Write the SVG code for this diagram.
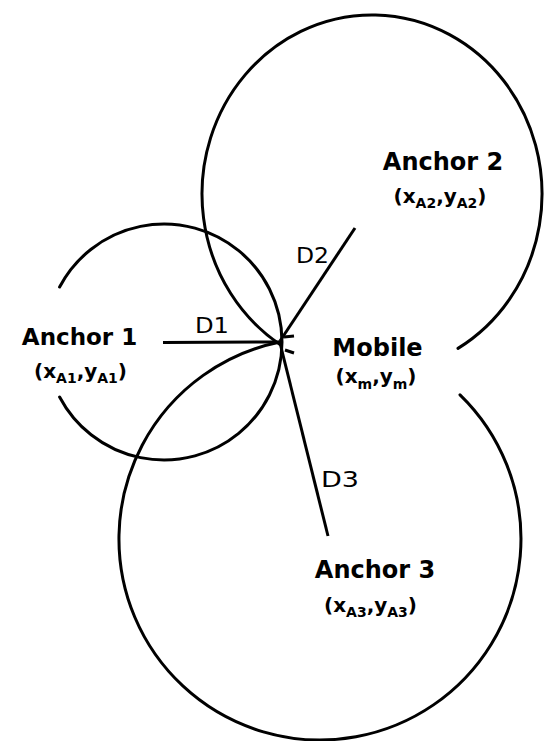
<svg xmlns="http://www.w3.org/2000/svg" width="545" height="741" viewBox="0 0 545 741">
<style>
.arc{fill:none;stroke:#000;stroke-width:3;stroke-linecap:round}
.ln{fill:none;stroke:#000;stroke-width:3;stroke-linecap:butt}
.name{font-family:"DejaVu Sans","Liberation Sans",sans-serif;font-weight:bold;font-size:24px;fill:#000;text-anchor:middle}
.coord{font-family:"DejaVu Sans","Liberation Sans",sans-serif;font-weight:bold;font-size:20px;fill:#000;text-anchor:middle}
.sub{font-size:14px}
.dl{font-family:"DejaVu Sans","Liberation Sans",sans-serif;font-size:21px;fill:#000}
</style>
<rect width="545" height="741" fill="#fff"/>
<g id="anchor1">
<path class="arc" d="M 59.6,287 A 118 118 0 1 1 59.6,397"/>
<text class="name" x="79.5" y="345" style="font-size:23px">Anchor 1</text>
<text class="coord" x="80.5" y="378">(x<tspan class="sub" dy="5">A1</tspan><tspan dy="-5">,y</tspan><tspan class="sub" dy="5">A1</tspan><tspan dy="-5">)</tspan></text>
</g>
<g id="anchor2">
<path class="arc" d="M 458,348.4 A 170 179 0 1 0 280,344.5"/>
<text class="name" x="443" y="170">Anchor 2</text>
<text class="coord" x="440" y="203">(x<tspan class="sub" dy="5">A2</tspan><tspan dy="-5">,y</tspan><tspan class="sub" dy="5">A2</tspan><tspan dy="-5">)</tspan></text>
</g>
<g id="anchor3">
<path class="arc" d="M 460,394.8 A 201 201 0 1 1 280,342"/>
<text class="name" x="375" y="578">Anchor 3</text>
<text class="coord" x="370.5" y="612">(x<tspan class="sub" dy="5">A3</tspan><tspan dy="-5">,y</tspan><tspan class="sub" dy="5">A3</tspan><tspan dy="-5">)</tspan></text>
</g>
<g id="mobile">
<line class="ln" x1="284" y1="337" x2="294" y2="336"/>
<line class="ln" x1="285" y1="350" x2="294" y2="353"/>
<text class="name" x="377.5" y="356">Mobile</text>
<text class="coord" x="376" y="383">(x<tspan class="sub" dy="6">m</tspan><tspan dy="-6">,y</tspan><tspan class="sub" dy="6">m</tspan><tspan dy="-6">)</tspan></text>
</g>
<g id="connectors">
<line class="ln" x1="163" y1="342.5" x2="281" y2="342"/>
<line class="ln" x1="280" y1="341" x2="355" y2="228"/>
<line class="ln" x1="280" y1="343" x2="328" y2="536"/>
<text class="dl" x="195" y="333" textLength="34" lengthAdjust="spacingAndGlyphs">D1</text>
<text class="dl" x="296" y="263" textLength="33" lengthAdjust="spacingAndGlyphs">D2</text>
<text class="dl" x="321" y="487" textLength="38" lengthAdjust="spacingAndGlyphs">D3</text>
</g>
</svg>
